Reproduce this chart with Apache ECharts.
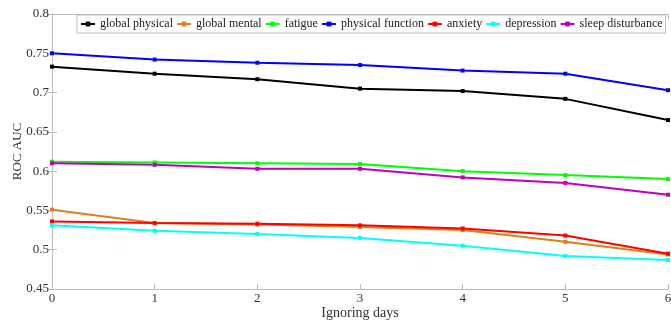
<!DOCTYPE html>
<html>
<head>
<meta charset="utf-8">
<script src="https://cdn.jsdelivr.net/npm/echarts@6/dist/echarts.min.js"></script>
<style>
  html, body { margin: 0; padding: 0; background: #fff; }
  #chart { width: 671px; height: 322px; }
</style>
</head>
<body>
<div id="chart"></div>
<script>
// ROC AUC vs ignoring days — one line per symptom
const days = [0, 1, 2, 3, 4, 5, 6];
const globalPhysical = [0.733, 0.724, 0.717, 0.705, 0.702, 0.692, 0.665];
const globalMental = [0.551, 0.534, 0.532, 0.529, 0.525, 0.510, 0.494];
const fatigue = [0.612, 0.611, 0.610, 0.609, 0.600, 0.595, 0.590];
const physicalFunction = [0.750, 0.742, 0.738, 0.735, 0.728, 0.724, 0.703];
const anxiety = [0.536, 0.534, 0.533, 0.531, 0.527, 0.518, 0.495];
const depression = [0.531, 0.524, 0.520, 0.515, 0.505, 0.492, 0.487];
const sleepDisturbance = [0.610, 0.608, 0.603, 0.603, 0.592, 0.585, 0.570];

const seriesDefs = [
  ["global physical", globalPhysical, "#000000"],
  ["global mental", globalMental, "#D9821A"],
  ["fatigue", fatigue, "#00FF00"],
  ["physical function", physicalFunction, "#0000FF"],
  ["anxiety", anxiety, "#FF0000"],
  ["depression", depression, "#00FFFF"],
  ["sleep disturbance", sleepDisturbance, "#BF00BF"],
];

const chart = echarts.init(document.getElementById("chart"), null, { renderer: "canvas" });
const font = "'Liberation Serif', 'DejaVu Serif', serif";
const axisGrey = "#bdbdbd";

chart.setOption({
  animation: false,
  textStyle: { fontFamily: font },
  grid: { left: 52, right: 3, top: 14, bottom: 33, outerBoundsMode: "none", containLabel: false },
  legend: {
    left: 77,
    top: 15,
    width: 590,
    orient: "horizontal",
    itemGap: 3,
    itemWidth: 14,
    itemHeight: 6,
    padding: [3, 3, 3, 3],
    borderColor: "#bdbdbd",
    borderWidth: 1,
    backgroundColor: "#fff",
    textStyle: { fontFamily: font, fontSize: 12, color: "#222" },
    data: seriesDefs.map((d) => d[0]),
  },
  xAxis: [
    {
      type: "value",
      min: 0,
      max: 6,
      interval: 1,
      name: "Ignoring days",
      nameLocation: "middle",
      nameGap: 17,
      nameMoveOverlap: false,
      nameTextStyle: { fontFamily: font, fontSize: 14, color: "#333" },
      axisLine: { lineStyle: { color: axisGrey } },
      axisTick: { inside: true, length: 5, lineStyle: { color: axisGrey } },
      axisLabel: { fontFamily: font, fontSize: 13, color: "#333", margin: 3 },
      splitLine: { show: false },
    },
    {
      type: "value",
      position: "top",
      min: 0,
      max: 6,
      interval: 1,
      axisLine: { lineStyle: { color: axisGrey } },
      axisTick: { inside: true, length: 5, lineStyle: { color: axisGrey } },
      axisLabel: { show: false },
      splitLine: { show: false },
    },
  ],
  yAxis: [
    {
      type: "value",
      min: 0.45,
      max: 0.8,
      interval: 0.05,
      name: "ROC AUC",
      nameLocation: "middle",
      nameGap: 28,
      nameMoveOverlap: false,
      nameTextStyle: { fontFamily: font, fontSize: 13, color: "#333" },
      axisLine: { show: true, lineStyle: { color: axisGrey } },
      axisTick: { show: true, inside: true, length: 5, lineStyle: { color: axisGrey } },
      axisLabel: { fontFamily: font, fontSize: 13, color: "#333", margin: 3 },
      splitLine: { show: false },
    },
    {
      type: "value",
      position: "right",
      min: 0.45,
      max: 0.8,
      interval: 0.05,
      axisLine: { show: true, lineStyle: { color: axisGrey } },
      axisTick: { show: true, inside: true, length: 5, lineStyle: { color: axisGrey } },
      axisLabel: { show: false },
      splitLine: { show: false },
    },
  ],
  series: seriesDefs.map(([name, values, color]) => ({
    name,
    type: "line",
    data: days.map((d, i) => [d, values[i]]),
    symbol: "rect",
    symbolSize: 4,
    lineStyle: { color, width: 2 },
    itemStyle: { color },
  })),
});
</script>
</body>
</html>
